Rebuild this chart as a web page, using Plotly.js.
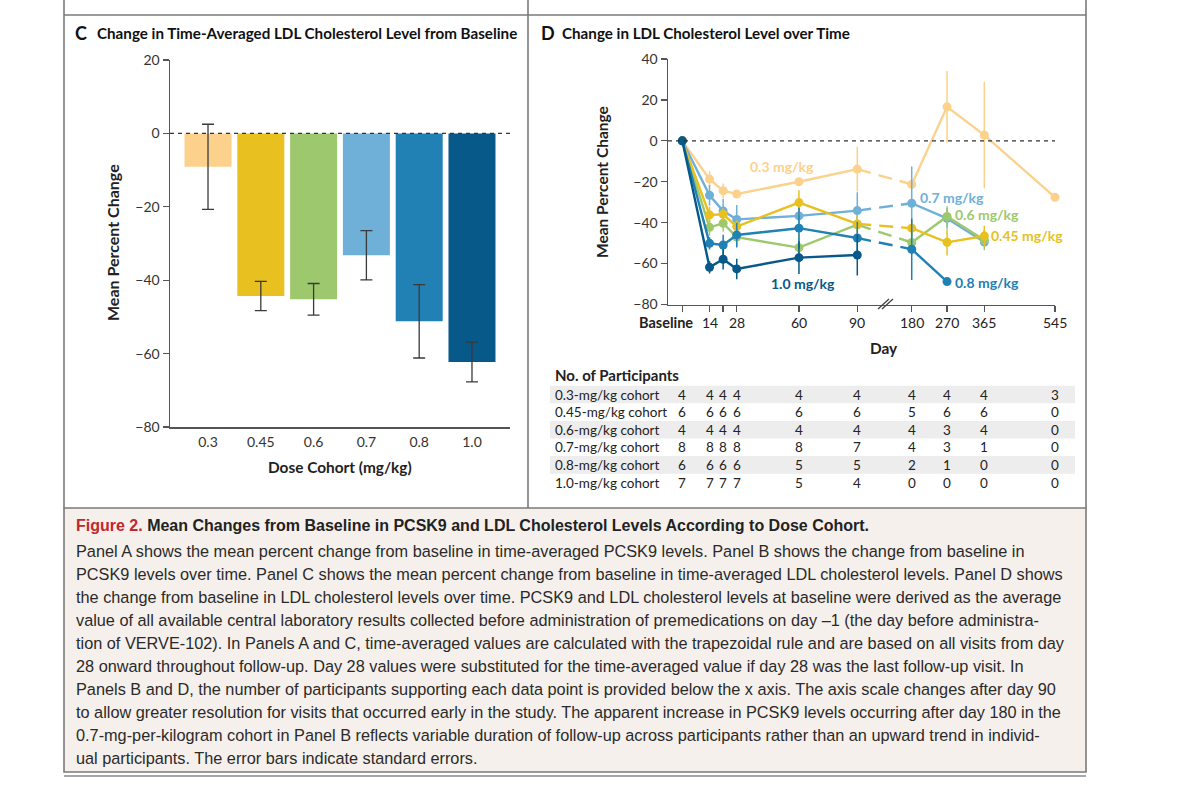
<!DOCTYPE html>
<html><head><meta charset="utf-8">
<script src="https://cdn.plot.ly/plotly-3.0.1.min.js"></script>
<style>html,body{margin:0;padding:0;background:#fff}#chart{width:1200px;height:801px}</style>
</head><body><div id="chart"></div>
<script>
// ---------- DATA ----------
const cohorts = ['0.3', '0.45', '0.6', '0.7', '0.8', '1.0'];
const cohortLabels = ['0.3 mg/kg', '0.45 mg/kg', '0.6 mg/kg', '0.7 mg/kg', '0.8 mg/kg', '1.0 mg/kg'];
const rowLabels = ['0.3-mg/kg cohort', '0.45-mg/kg cohort', '0.6-mg/kg cohort', '0.7-mg/kg cohort', '0.8-mg/kg cohort', '1.0-mg/kg cohort'];

// Panel C: time-averaged LDL change (%) and standard errors
const avgChange = [-9.1, -44.3, -45.2, -33.2, -51.2, -62.3];
const avgSE = [11.6, 4.0, 4.3, 6.7, 10.0, 5.4];

// Panel D: change over time
const days = [0, 14, 21, 28, 60, 90, 180, 270, 365, 545];
const dayTickText = ['Baseline', '14', '', '28', '60', '90', '180', '270', '365', '545'];

const ldl_03  = [0, -18.7, -24.4, -26.0, -20.0, -13.8, -21.3, 16.6, 2.8, -27.6];
const ldl_045 = [0, -36.2, -35.9, -41.9, -30.2, -40.6, -42.7, -49.6, -46.5, null];
const ldl_06  = [0, -42.3, -40.3, -47.1, -52.2, -41.0, -49.7, -37.0, -48.5, null];
const ldl_07  = [0, -26.6, -34.3, -38.4, -36.7, -34.1, -30.5, -37.9, -49.5, null];
const ldl_08  = [0, -50.1, -50.9, -46.0, -42.7, -47.5, -53.0, -68.8, null, null];
const ldl_10  = [0, -61.8, -57.9, -62.6, -57.1, -55.8, null, null, null, null];

const se_03  = [0, 4, 3.5, 2, 2, 11, 2, 17.5, 26, 2];
const se_045 = [0, 4, 3, 3, 6, 4, 3, 6.5, 5, null];
const se_06  = [0, 4, 4, 5, 7, 5, 6, 5, 5, null];
const se_07  = [0, 5, 6, 7, 7, 9, 18, 5, 0, null];
const se_08  = [0, 3, 5, 6, 10, 8, 15, 0, null, null];
const se_10  = [0, 3, 5, 5, 8, 10, null, null, null, null];

// Number of participants
const n_03  = [4, 4, 4, 4, 4, 4, 4, 4, 4, 3];
const n_045 = [6, 6, 6, 6, 6, 6, 5, 6, 6, 0];
const n_06  = [4, 4, 4, 4, 4, 4, 4, 3, 4, 0];
const n_07  = [8, 8, 8, 8, 8, 7, 4, 3, 1, 0];
const n_08  = [6, 6, 6, 6, 5, 5, 2, 1, 0, 0];
const n_10  = [7, 7, 7, 7, 5, 4, 0, 0, 0, 0];

// ---------- STYLE / LAYOUT ----------
const colors = ['#fbd18c', '#e8c020', '#9ec86d', '#6eb0d8', '#2180b4', '#07598a'];
const FONT = 'Lato, "Open Sans", sans-serif';
const CAPFONT = '"Liberation Sans", Arial, sans-serif';
const W = 1200, H = 801;
const fx = p => p / W, fy = p => 1 - p / H;

// broken time axis: linear to day 90, compressed after day 180
function dayPos(d) { return d <= 90 ? d : 118 + (d - 180) * 0.2019; }

const series = [
  {y: ldl_03, se: se_03}, {y: ldl_045, se: se_045}, {y: ldl_06, se: se_06},
  {y: ldl_07, se: se_07}, {y: ldl_08, se: se_08}, {y: ldl_10, se: se_10}
];
const counts = [n_03, n_045, n_06, n_07, n_08, n_10];
const drawOrder = [0, 3, 2, 1, 4, 5];

const traces = [];
// Panel C bars
traces.push({
  type: 'bar', x: cohorts, y: avgChange, xaxis: 'x', yaxis: 'y',
  marker: {color: colors, line: {width: 0}},
  error_y: {type: 'data', array: avgSE, visible: true, color: '#3a3a3a', thickness: 1.3, width: 6},
  hoverinfo: 'skip'
});

// Panel D lines
drawOrder.forEach(i => {
  const s = series[i];
  const parts = [d => d <= 90, d => d >= 180];
  parts.forEach(filter => {
    const xs = [], ys = [], es = [];
    days.forEach((d, k) => {
      if (filter(d) && s.y[k] !== null) { xs.push(dayPos(d)); ys.push(s.y[k]); es.push(s.se[k]); }
    });
    if (!xs.length) return;
    traces.push({
      type: 'scatter', mode: 'lines+markers', x: xs, y: ys, xaxis: 'x2', yaxis: 'y2', cliponaxis: false,
      line: {color: colors[i], width: 2.4},
      marker: {color: colors[i], size: 9},
      error_y: {type: 'data', array: es, visible: true, color: colors[i], thickness: 1.5, width: 0},
      hoverinfo: 'skip'
    });
  });
  // dashed connector across the axis break
  const k90 = days.indexOf(90), k180 = days.indexOf(180);
  if (s.y[k90] !== null && s.y[k180] !== null) {
    traces.push({
      type: 'scatter', mode: 'lines', x: [dayPos(days[k90]), dayPos(days[k180])], y: [s.y[k90], s.y[k180]],
      xaxis: 'x2', yaxis: 'y2', line: {color: colors[i], width: 2.4, dash: '14px,8px'}, hoverinfo: 'skip'
    });
  }
});

const shapes = [];
const annotations = [];
const lineC = '#7a7a7a';
function hline(x0, x1, y, c, w) { shapes.push({type: 'line', xref: 'paper', yref: 'paper', x0: fx(x0), x1: fx(x1), y0: fy(y), y1: fy(y), line: {color: c || lineC, width: w || 1.6}}); }
function vline(x, y0, y1, c, w) { shapes.push({type: 'line', xref: 'paper', yref: 'paper', x0: fx(x), x1: fx(x), y0: fy(y0), y1: fy(y1), line: {color: c || lineC, width: w || 1.6}}); }

// caption box
shapes.push({type: 'rect', xref: 'paper', yref: 'paper', x0: fx(64), x1: fx(1086), y0: fy(508), y1: fy(772),
  fillcolor: '#f6f0ec', line: {color: lineC, width: 1.6}, layer: 'below'});
// frame lines
hline(64, 1086, 15);
vline(64, 0, 508);
vline(1086, 0, 508);
vline(528, 0, 508);
hline(64, 1086, 776, '#8a8a8a', 1.6);

// row shading for participant table
[0, 2, 4].forEach(r => {
  const yc = 394.5 + r * 17.6;
  shapes.push({type: 'rect', xref: 'paper', yref: 'paper', x0: fx(550), x1: fx(1075), y0: fy(yc + 8.8), y1: fy(yc - 8.8),
    fillcolor: '#ededed', line: {width: 0}, layer: 'below'});
});

// zero reference lines
shapes.push({type: 'line', xref: 'x domain', yref: 'y', x0: 0, x1: 1, y0: 0, y1: 0, line: {color: '#333', width: 1.2, dash: '4px,4px'}});
shapes.push({type: 'line', xref: 'x2 domain', yref: 'y2', x0: 0, x1: 1, y0: 0, y1: 0, line: {color: '#333', width: 1.2, dash: '4px,4px'}});

// axis break marks
[0, 4].forEach(o => {
  shapes.push({type: 'line', xref: 'paper', yref: 'paper', x0: fx(878 + o), x1: fx(889 + o), y0: fy(309), y1: fy(299), line: {color: '#444', width: 1.3}});
});

function ann(text, x, y, opts) {
  annotations.push(Object.assign({text: text, x: fx(x), y: fy(y), xref: 'paper', yref: 'paper', showarrow: false,
    xanchor: 'center', yanchor: 'middle', font: {family: FONT, size: 14, color: '#222'}}, opts || {}));
}

// panel titles
ann('<b>C</b>', 73, 33, {xanchor: 'left', font: {family: FONT, size: 18, color: '#111'}});
ann('<b>Change in Time-Averaged LDL Cholesterol Level from Baseline</b>', 95, 33, {xanchor: 'left', font: {family: FONT, size: 15.2, color: '#111'}});
ann('<b>D</b>', 539, 33, {xanchor: 'left', font: {family: FONT, size: 18, color: '#111'}});
ann('<b>Change in LDL Cholesterol Level over Time</b>', 560, 33, {xanchor: 'left', font: {family: FONT, size: 15.2, color: '#111'}});

// axis titles
ann('<b>Mean Percent Change</b>', 112, 243, {textangle: -90, font: {family: FONT, size: 16, color: '#222'}});
ann('<b>Dose Cohort (mg/kg)</b>', 340, 467, {font: {family: FONT, size: 15.4, color: '#222'}});
ann('<b>Mean Percent Change</b>', 602, 182, {textangle: -90, font: {family: FONT, size: 15.5, color: '#222'}});
ann('<b>Day</b>', 884, 348, {font: {family: FONT, size: 15.4, color: '#222'}});

// day tick labels for the broken axis
days.forEach((d, k) => {
  const t = dayTickText[k];
  if (!t) return;
  const isBase = d === 0;
  annotations.push({text: isBase ? '<b>' + t + '</b>' : t, x: dayPos(d) + (isBase ? 6.5 : 0), xref: 'x2', y: fy(322), yref: 'paper',
    showarrow: false, xanchor: isBase ? 'right' : 'center', yanchor: 'middle',
    font: {family: FONT, size: isBase ? 14.5 : 14, color: '#222'}});
});

// series labels in panel D
const labelPos = [[782, 166], [1027, 235], [987, 214], [952, 198], [987, 282], [803, 283]];
cohortLabels.forEach((t, i) => ann('<b>' + t + '</b>', labelPos[i][0], labelPos[i][1], {font: {family: FONT, size: 14, color: colors[i]}}));

// participants table
ann('<b>No. of Participants</b>', 553, 375, {xanchor: 'left', font: {family: FONT, size: 15, color: '#222'}});
rowLabels.forEach((t, r) => {
  const yc = 394.5 + r * 17.6;
  ann(t, 553, yc, {xanchor: 'left', font: {family: FONT, size: 13.5, color: '#222'}});
  counts[r].forEach((n, k) => {
    annotations.push({text: String(n), x: dayPos(days[k]), xref: 'x2', y: fy(yc), yref: 'paper', showarrow: false,
      xanchor: 'center', yanchor: 'middle', font: {family: FONT, size: 13.5, color: '#222'}});
  });
});

// caption
const capTitle = '<span style="color:#c1272d"><b>Figure 2.</b></span><b> Mean Changes from Baseline in PCSK9 and LDL Cholesterol Levels According to Dose Cohort.</b>';
const capLines = [
  'Panel A shows the mean percent change from baseline in time-averaged PCSK9 levels. Panel B shows the change from baseline in',
  'PCSK9 levels over time. Panel C shows the mean percent change from baseline in time-averaged LDL cholesterol levels. Panel D shows',
  'the change from baseline in LDL cholesterol levels over time. PCSK9 and LDL cholesterol levels at baseline were derived as the average',
  'value of all available central laboratory results collected before administration of premedications on day \u20131 (the day before administra-',
  'tion of VERVE-102). In Panels A and C, time-averaged values are calculated with the trapezoidal rule and are based on all visits from day',
  '28 onward throughout follow-up. Day 28 values were substituted for the time-averaged value if day 28 was the last follow-up visit. In',
  'Panels B and D, the number of participants supporting each data point is provided below the x axis. The axis scale changes after day 90',
  'to allow greater resolution for visits that occurred early in the study. The apparent increase in PCSK9 levels occurring after day 180 in the',
  '0.7-mg-per-kilogram cohort in Panel B reflects variable duration of follow-up across participants rather than an upward trend in individ-',
  'ual participants. The error bars indicate standard errors.'
];
ann(capTitle, 74, 525, {xanchor: 'left', font: {family: CAPFONT, size: 16, color: '#222'}});
capLines.forEach((t, i) => ann(t, 74, 551 + i * 23, {xanchor: 'left', font: {family: CAPFONT, size: 16.3, color: '#2a2a2a'}}));

const axisCommon = {showgrid: false, zeroline: false, showline: true, linecolor: '#555', linewidth: 1.5, fixedrange: true};

const layout = {
  width: W, height: H, margin: {l: 0, r: 0, t: 0, b: 0},
  paper_bgcolor: '#ffffff', plot_bgcolor: 'rgba(0,0,0,0)', showlegend: false,
  bargap: 0.11,
  font: {family: FONT, color: '#333'},
  xaxis: Object.assign({}, axisCommon, {domain: [fx(170), fx(510)], type: 'category', range: [-0.72, 5.72],
    ticks: '', ticklabelstandoff: 2, tickfont: {family: FONT, size: 14, color: '#333'}, anchor: 'y'}),
  yaxis: Object.assign({}, axisCommon, {domain: [fy(427), fy(60)], range: [-80, 20], tickvals: [-80, -60, -40, -20, 0, 20],
    ticks: 'outside', ticklen: 6, tickcolor: '#555', tickwidth: 1.3, tickfont: {family: FONT, size: 14, color: '#333'}, anchor: 'x'}),
  xaxis2: Object.assign({}, axisCommon, {domain: [fx(668), fx(1055)], range: [-7.36, 191.7],
    tickvals: days.map(dayPos), showticklabels: false, ticks: 'outside', ticklen: 6, tickcolor: '#555', tickwidth: 1.3, anchor: 'y2'}),
  yaxis2: Object.assign({}, axisCommon, {domain: [fy(304.5), fy(59)], range: [-80, 40], tickvals: [-80, -60, -40, -20, 0, 20, 40],
    ticks: 'outside', ticklen: 6, tickcolor: '#555', tickwidth: 1.3, tickfont: {family: FONT, size: 14, color: '#333'}, anchor: 'x2'}),
  shapes: shapes,
  annotations: annotations
};

Plotly.newPlot('chart', traces, layout, {staticPlot: true, displayModeBar: false});
</script>
</body></html>
